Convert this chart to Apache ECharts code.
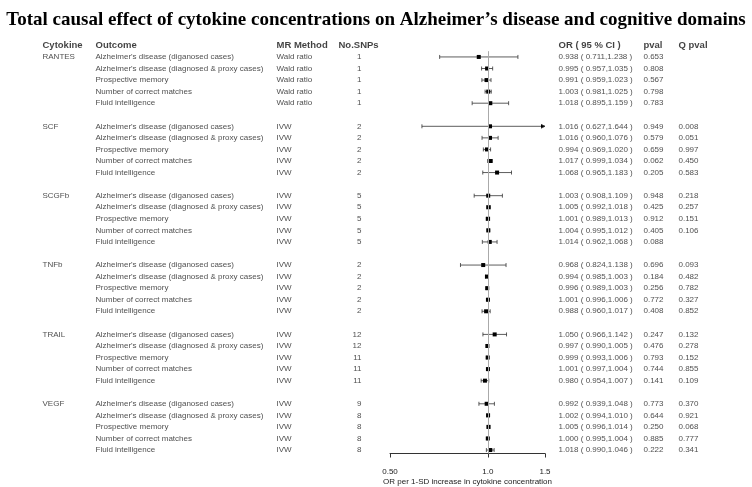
<!DOCTYPE html>
<html>
<head>
<meta charset="utf-8">
<script src="https://cdn.jsdelivr.net/npm/echarts@6/dist/echarts.min.js"></script>
<style>
  html, body { margin: 0; padding: 0; background: #fff; }
  #main { width: 752px; height: 487px; }
</style>
</head>
<body>
<div id="main"></div>
<script>
// ---- data ----
var cytokines = ["RANTES", "SCF", "SCGFb", "TNFb", "TRAIL", "VEGF"];
var outcomes = [
  "Alzheimer's disease (diganosed cases)",
  "Alzheimer's disease (diagnosed & proxy cases)",
  "Prospective memory",
  "Number of correct matches",
  "Fluid intelligence"
];
var methods = ["Wald ratio", "IVW", "IVW", "IVW", "IVW", "IVW"];
var snps = [
  [1, 1, 1, 1, 1],
  [2, 2, 2, 2, 2],
  [5, 5, 5, 5, 5],
  [2, 2, 2, 2, 2],
  [12, 12, 11, 11, 11],
  [9, 8, 8, 8, 8]
];
var orVal = [
  [0.938, 0.995, 0.991, 1.003, 1.018],
  [1.016, 1.016, 0.994, 1.017, 1.068],
  [1.003, 1.005, 1.001, 1.004, 1.014],
  [0.968, 0.994, 0.996, 1.001, 0.988],
  [1.050, 0.997, 0.999, 1.001, 0.980],
  [0.992, 1.002, 1.005, 1.000, 1.018]
];
var ciLow = [
  [0.711, 0.957, 0.959, 0.981, 0.895],
  [0.627, 0.960, 0.969, 0.999, 0.965],
  [0.908, 0.992, 0.989, 0.995, 0.962],
  [0.824, 0.985, 0.989, 0.996, 0.960],
  [0.966, 0.990, 0.993, 0.997, 0.954],
  [0.939, 0.994, 0.996, 0.995, 0.990]
];
var ciHigh = [
  [1.238, 1.035, 1.023, 1.025, 1.159],
  [1.644, 1.076, 1.020, 1.034, 1.183],
  [1.109, 1.018, 1.013, 1.012, 1.068],
  [1.138, 1.003, 1.003, 1.006, 1.017],
  [1.142, 1.005, 1.006, 1.004, 1.007],
  [1.048, 1.010, 1.014, 1.004, 1.046]
];
var pvals = [
  ["0.653", "0.808", "0.567", "0.798", "0.783"],
  ["0.949", "0.579", "0.659", "0.062", "0.205"],
  ["0.948", "0.425", "0.912", "0.405", "0.088"],
  ["0.696", "0.184", "0.256", "0.772", "0.408"],
  ["0.247", "0.476", "0.793", "0.744", "0.141"],
  ["0.773", "0.644", "0.250", "0.885", "0.222"]
];
var qpvals = [
  ["", "", "", "", ""],
  ["0.008", "0.051", "0.997", "0.450", "0.583"],
  ["0.218", "0.257", "0.151", "0.106", ""],
  ["0.093", "0.482", "0.782", "0.327", "0.852"],
  ["0.132", "0.278", "0.152", "0.855", "0.109"],
  ["0.370", "0.921", "0.068", "0.777", "0.341"]
];
var headers = ["Cytokine", "Outcome", "MR Method", "No.SNPs", "OR ( 95 % CI )", "pval", "Q pval"];
var tickValues = [0.5, 1.0, 1.5];

// ---- layout ----
var xMin = 0.5, xMax = 1.5;
var colX = { cyto: 42, outcome: 95, method: 276, snpHead: 338, snp: 362, or: 558, p: 643, q: 678 };
var rowMin = -1.5, rowMax = 34.3;
var gridTop = 39.6, gridBottom = 33.5;
var bodyFont = { fontFamily: "Liberation Sans, Arial", fontSize: 8, color: "#222" };
var headFont = { fontFamily: "Liberation Sans, Arial", fontSize: 9.5, fontWeight: "bold", color: "#111" };

var fmt = function (v) { return v.toFixed(3); };

// build rows
var forestData = [];
var textCols = { cyto: [], outcome: [], method: [], snp: [], or: [], p: [], q: [] };
cytokines.forEach(function (c, g) {
  for (var i = 0; i < 5; i++) {
    var row = g * 6 + i;
    forestData.push([row, orVal[g][i], ciLow[g][i], ciHigh[g][i]]);
    if (i === 0) textCols.cyto.push([colX.cyto, row, c]);
    textCols.outcome.push([colX.outcome, row, outcomes[i]]);
    textCols.method.push([colX.method, row, methods[g]]);
    textCols.snp.push([colX.snp, row, String(snps[g][i])]);
    textCols.or.push([colX.or, row, fmt(orVal[g][i]) + " ( " + fmt(ciLow[g][i]) + "," + fmt(ciHigh[g][i]) + " )"]);
    textCols.p.push([colX.p, row, pvals[g][i]]);
    if (qpvals[g][i]) textCols.q.push([colX.q, row, qpvals[g][i]]);
  }
});
var headX = [colX.cyto, colX.outcome, colX.method, colX.snpHead, colX.or, colX.p, colX.q];
var headData = headers.map(function (h, k) { return [headX[k], -1, h]; });

function textSeries(data, style, pos) {
  return {
    type: "scatter",
    xAxisIndex: 1,
    yAxisIndex: 1,
    symbolSize: 1,
    itemStyle: { color: "rgba(0,0,0,0)" },
    silent: true,
    data: data,
    label: Object.assign({
      show: true,
      position: pos || "right",
      distance: 0,
      formatter: function (p) { return p.data[2]; }
    }, style)
  };
}

var chart = echarts.init(document.getElementById("main"));
var option = {
  animation: false,
  backgroundColor: "#fff",
  title: {
    text: "Total causal effect of cytokine concentrations on Alzheimer\u2019s disease and cognitive domains",
    left: "center",
    top: 6,
    textStyle: { fontFamily: "Liberation Serif, Times New Roman", fontSize: 19, fontWeight: "bold", color: "#000" }
  },
  grid: [
    { left: 390, right: 207, top: gridTop, bottom: gridBottom, outerBoundsMode: "none", containLabel: false },
    { left: 0, right: 0, top: gridTop, bottom: gridBottom, outerBoundsMode: "none", containLabel: false }
  ],
  xAxis: [
    {
      type: "log",
      gridIndex: 0,
      min: xMin,
      max: xMax,
      splitLine: { show: false },
      axisLine: { show: true, onZero: false, lineStyle: { color: "#333", width: 1 } },
      axisTick: { show: true, length: 4, customValues: tickValues, lineStyle: { color: "#333" } },
      axisLabel: {
        customValues: tickValues,
        margin: 14,
        fontFamily: "Liberation Sans, Arial",
        fontSize: 8,
        color: "#222",
        formatter: function (v) { return v === 0.5 ? "0.50" : v.toFixed(1); }
      },
      name: "OR per 1-SD increase in cytokine concentration",
      nameLocation: "middle",
      nameGap: 28,
      nameMoveOverlap: false,
      nameTextStyle: { fontFamily: "Liberation Sans, Arial", fontSize: 8, color: "#222", verticalAlign: "middle" }
    },
    { type: "value", gridIndex: 1, min: 0, max: 752, show: false }
  ],
  yAxis: [
    { type: "value", gridIndex: 0, min: rowMin, max: rowMax, inverse: true, show: false },
    { type: "value", gridIndex: 1, min: rowMin, max: rowMax, inverse: true, show: false }
  ],
  series: [
    {
      type: "custom",
      xAxisIndex: 0,
      yAxisIndex: 0,
      encode: { x: [1, 2, 3], y: 0 },
      data: forestData,
      clip: false,
      renderItem: function (params, api) {
        var row = api.value(0), or = api.value(1), lo = api.value(2), hi = api.value(3);
        var c = api.coord([or, row]);
        var pl = api.coord([Math.max(lo, xMin), row]);
        var ph = api.coord([Math.min(hi, xMax), row]);
        var st = { stroke: "#333", lineWidth: 0.8 };
        var kids = [
          { type: "line", shape: { x1: pl[0], y1: pl[1], x2: ph[0], y2: ph[1] }, style: st }
        ];
        if (lo >= xMin) {
          kids.push({ type: "line", shape: { x1: pl[0], y1: pl[1] - 2, x2: pl[0], y2: pl[1] + 2 }, style: st });
        }
        if (hi <= xMax) {
          kids.push({ type: "line", shape: { x1: ph[0], y1: ph[1] - 2, x2: ph[0], y2: ph[1] + 2 }, style: st });
        } else {
          kids.push({ type: "polyline", shape: { points: [[ph[0] - 4, ph[1] - 2], [ph[0], ph[1]], [ph[0] - 4, ph[1] + 2]] }, style: st });
        }
        kids.push({ type: "rect", shape: { x: c[0] - 2, y: c[1] - 2, width: 4, height: 4 }, style: { fill: "#000" } });
        return { type: "group", children: kids };
      },
      markLine: {
        silent: true,
        symbol: "none",
        label: { show: false },
        lineStyle: { color: "#aaa", width: 1, type: "solid" },
        data: [[{ coord: [1, -0.5] }, { coord: [1, rowMax] }]]
      }
    },
    textSeries(headData, headFont),
    textSeries(textCols.cyto, bodyFont),
    textSeries(textCols.outcome, bodyFont),
    textSeries(textCols.method, bodyFont),
    textSeries(textCols.snp, bodyFont, "left"),
    textSeries(textCols.or, bodyFont),
    textSeries(textCols.p, bodyFont),
    textSeries(textCols.q, bodyFont)
  ]
};
chart.setOption(option);
</script>
</body>
</html>
